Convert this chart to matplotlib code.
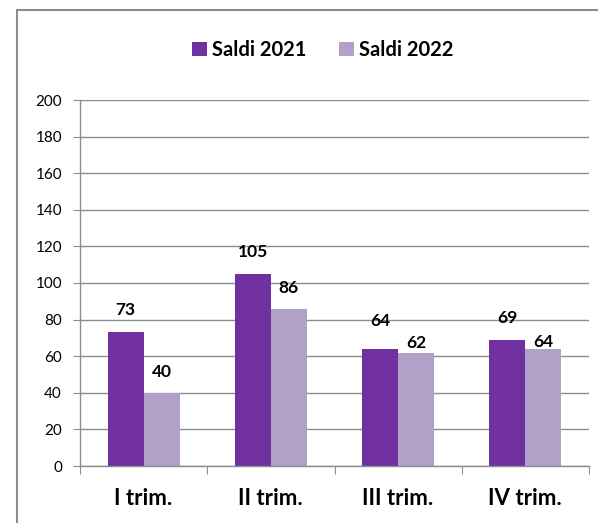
import numpy as np
import matplotlib.pyplot as plt
from matplotlib.patches import Rectangle

# Dati
trimestri = ['I trim.', 'II trim.', 'III trim.', 'IV trim.']
saldi_2021 = [73, 105, 64, 69]
saldi_2022 = [40, 86, 62, 64]
serie = ['Saldi 2021', 'Saldi 2022']

# scostamento etichette (punti)
off_2021 = [16, 16, 20, 16]
off_2022 = [15, 15, 7, 5]

plt.rcParams['font.family'] = ['Lato', 'DejaVu Sans']

fig = plt.figure(figsize=(5.98, 5.23), dpi=100)
fig.patches.append(Rectangle((17 / 598, -0.1), 1.2, 1 - 10 / 523 + 0.1,
                             transform=fig.transFigure, fill=False,
                             edgecolor='#8c8c8c', linewidth=1.5))
ax = fig.add_axes([80 / 598, 1 - 466 / 523, 509 / 598, 366 / 523])

x = np.arange(len(trimestri))
w = 0.283
b1 = ax.bar(x - w / 2, saldi_2021, w, color='#7030A0', label=serie[0])
b2 = ax.bar(x + w / 2, saldi_2022, w, color='#B1A0C7', label=serie[1])

for bars, offs in ((b1, off_2021), (b2, off_2022)):
    for r, o in zip(bars, offs):
        ax.annotate(str(int(r.get_height())), (r.get_x() + r.get_width() / 2, r.get_height()),
                    xytext=(0, o), textcoords='offset points', ha='center', va='center',
                    fontsize=12.5, fontweight='bold', color='black')

ax.set_xlim(-0.5, len(trimestri) - 0.5)
ax.set_ylim(0, 200)
ax.set_yticks(np.arange(0, 201, 20))
ax.yaxis.grid(True, color='#8c8c8c', linewidth=1)
ax.set_axisbelow(True)
for s in ['top', 'right']:
    ax.spines[s].set_visible(False)
ax.spines['left'].set_color('#8c8c8c')
ax.spines['bottom'].set_color('#8c8c8c')
ax.spines['left'].set_linewidth(1)
ax.spines['bottom'].set_linewidth(1)

ax.set_xticks(np.arange(-0.5, len(trimestri), 1))
ax.set_xticklabels([])
ax.set_xticks(x, minor=True)
ax.set_xticklabels(trimestri, minor=True, fontsize=16, fontweight='bold')
ax.tick_params(axis='x', which='major', length=6, color='#8c8c8c')
ax.tick_params(axis='x', which='minor', length=0, pad=16)
ax.tick_params(axis='y', length=5, color='#8c8c8c', labelsize=11, pad=8)

fig.legend(handles=[b1, b2], loc='center', bbox_to_anchor=(0.54, 1 - 50 / 523), ncol=2,
           frameon=False, prop={'weight': 'bold', 'size': 14.5},
           handlelength=0.75, handleheight=0.75, handletextpad=0.25, columnspacing=1.6)

fig.savefig('out.png', dpi=100)
